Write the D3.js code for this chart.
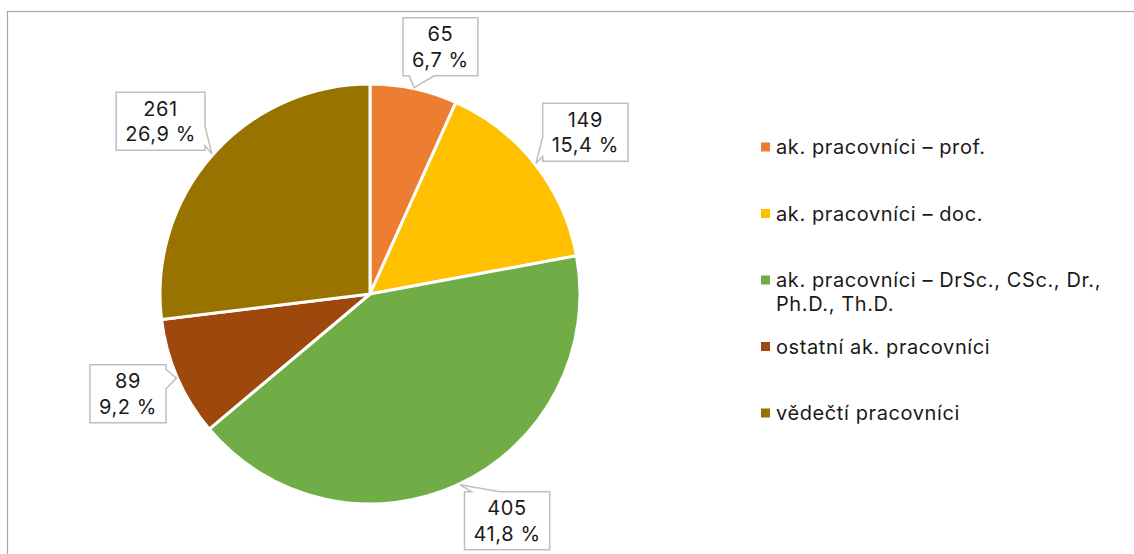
<!DOCTYPE html>
<html>
<head>
<meta charset="utf-8">
<script src="https://cdn.jsdelivr.net/npm/d3@7"></script>
<style>
  body { margin: 0; background: #fff; }
  svg text { font-family: Inter, "Open Sans", sans-serif; fill: #1a1a1a; letter-spacing: 0.6px; }
</style>
</head>
<body>
<div id="chart"></div>
<script>
// Data
const categories = [
    "ak. pracovníci – prof.",
    "ak. pracovníci – doc.",
    "ak. pracovníci – DrSc., CSc., Dr., Ph.D., Th.D.",
    "ostatní ak. pracovníci",
    "vědečtí pracovníci"
];
const values = [65, 149, 405, 89, 261];
const colours = ["#ED7D31", "#FFC000", "#70AD47", "#9E480E", "#997300"];

const width = 1134, height = 554;
const cx = 370, cy = 294, radius = 210;

// layout tweaks for callouts (Excel puts them a bit off the mid-angle)
const labelRadius = 265;
const labelNudge = [[15, 12], [7, 2], [24, -13], [1, -6], [-11, 3]];

const svg = d3.select("#chart")
    .append("svg")
        .attr("width", width)
        .attr("height", height);

// outer chart border (runs off the right and bottom edge)
svg.append("rect")
    .attr("x", 7.5)
    .attr("y", 11.5)
    .attr("width", width + 20)
    .attr("height", height + 20)
    .attr("fill", "none")
    .attr("stroke", "#a6a6a6")
    .attr("stroke-width", 1.2);

const total = d3.sum(values);
const data = categories.map((c, i) => ({ name: c, value: values[i], colour: colours[i] }));

const pie = d3.pie()
    .value(d => d.value)
    .sort(null);
const arcs = pie(data);

const arc = d3.arc()
    .innerRadius(0)
    .outerRadius(radius);

const pieG = svg.append("g")
    .attr("transform", `translate(${cx}, ${cy})`);

pieG.selectAll(".slice")
    .data(arcs)
    .enter()
    .append("path")
    .attr("class", "slice")
    .attr("d", arc)
    .attr("fill", d => d.data.colour)
    .attr("stroke", "#fff")
    .attr("stroke-width", 3)
    .attr("stroke-linejoin", "round");

// Callout labels
const fmtPct = v => d3.format(".1f")(v).replace(".", ",") + " %";
const polar = (a, r) => [r * Math.sin(a), -r * Math.cos(a)];

// rectangle callout with a wedge towards the tip, like Excel's wedgeRectCallout
const calloutPath = (x0, y0, w, h, tx, ty) => {
    const x1 = x0 + w, y1 = y0 + h;
    const mx = x0 + w / 2, my = y0 + h / 2;
    const dx = (tx - mx) / (w / 2), dy = (ty - my) / (h / 2);
    const p = [];
    if (Math.abs(dy) >= Math.abs(dx)) {
        const a = tx < mx ? x0 + w / 12 : x0 + 7 * w / 12;
        const b = tx < mx ? x0 + 5 * w / 12 : x0 + 11 * w / 12;
        if (dy > 0) {
            p.push([x0, y0], [x1, y0], [x1, y1], [b, y1], [tx, ty], [a, y1], [x0, y1]);
        } else {
            p.push([x0, y0], [a, y0], [tx, ty], [b, y0], [x1, y0], [x1, y1], [x0, y1]);
        }
    } else {
        const a = ty < my ? y0 + h / 12 : y0 + 7 * h / 12;
        const b = ty < my ? y0 + 5 * h / 12 : y0 + 11 * h / 12;
        if (dx > 0) {
            p.push([x0, y0], [x1, y0], [x1, a], [tx, ty], [x1, b], [x1, y1], [x0, y1]);
        } else {
            p.push([x0, y0], [x1, y0], [x1, y1], [x0, y1], [x0, b], [tx, ty], [x0, a]);
        }
    }
    return "M" + p.map(q => q.join(",")).join("L") + "Z";
};

const labels = pieG.selectAll(".callout")
    .data(arcs)
    .enter()
    .append("g")
    .attr("class", "callout");

labels.each(function(d, i) {
    const g = d3.select(this);
    const mid = (d.startAngle + d.endAngle) / 2;
    const [lx, ly] = polar(mid, labelRadius);
    const cxl = lx + labelNudge[i][0], cyl = ly + labelNudge[i][1];
    const [tx, ty] = polar(mid, radius + 1);

    const path = g.append("path");
    const t1 = g.append("text")
        .attr("x", cxl).attr("y", cyl - 12.5)
        .attr("text-anchor", "middle")
        .attr("dominant-baseline", "central")
        .attr("font-size", 20)
        .text(d.data.value);
    const t2 = g.append("text")
        .attr("x", cxl).attr("y", cyl + 13)
        .attr("text-anchor", "middle")
        .attr("dominant-baseline", "central")
        .attr("font-size", 20)
        .text(fmtPct(d.data.value / total * 100));
    const w = Math.max(t1.node().getComputedTextLength(), t2.node().getComputedTextLength()) + 18;
    const h = 58;
    path.attr("d", calloutPath(cxl - w / 2, cyl - h / 2, w, h, tx, ty))
        .attr("fill", "#fff")
        .attr("stroke", "#bfbfbf")
        .attr("stroke-width", 1.5);
});

// Legend
const legend = svg.append("g")
    .attr("transform", "translate(760, 0)");
const legendTop = 147, legendStep = 66.5, lineH = 24, maxTextW = 345;

legend.selectAll(".entry")
    .data(data)
    .enter()
    .append("g")
    .attr("class", "entry")
    .each(function(d, i) {
        const g = d3.select(this);
        const y = legendTop + i * legendStep;
        g.append("rect")
            .attr("x", 1).attr("y", y - 4.5)
            .attr("width", 9).attr("height", 9)
            .attr("fill", d.colour);
        const text = g.append("text")
            .attr("font-size", 20)
            .attr("dominant-baseline", "central");
        // simple word wrap
        const words = d.name.split(" ");
        let line = [], lineNo = 0;
        let tspan = text.append("tspan").attr("x", 16).attr("y", y);
        words.forEach(w => {
            line.push(w);
            tspan.text(line.join(" "));
            if (tspan.node().getComputedTextLength() > maxTextW && line.length > 1) {
                line.pop();
                tspan.text(line.join(" "));
                line = [w];
                lineNo++;
                tspan = text.append("tspan").attr("x", 16).attr("y", y + lineNo * lineH).text(w);
            }
        });
    });
</script>
</body>
</html>
